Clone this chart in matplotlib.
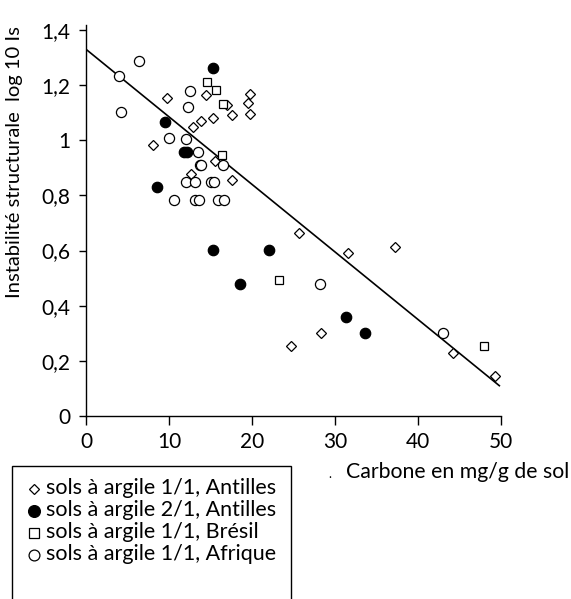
import matplotlib
matplotlib.use("Agg")
import matplotlib.pyplot as plt
import numpy as np
from matplotlib.lines import Line2D
from matplotlib.patches import Rectangle

plt.rcParams['font.family'] = ['Lato', 'DejaVu Sans']

# Data
antilles11_x = [9.8, 14.5, 17.0, 19.8, 19.5, 19.8, 17.6, 15.3, 13.8, 12.9, 8.1, 15.5, 12.7, 17.6,
                25.7, 31.6, 37.2, 28.3, 24.7, 44.2, 49.3]
antilles11_y = [1.155, 1.165, 1.128, 1.168, 1.134, 1.096, 1.092, 1.082, 1.071, 1.049, 0.982, 0.925,
                0.877, 0.856, 0.664, 0.59, 0.613, 0.30, 0.254, 0.227, 0.145]

antilles21_x = [15.3, 9.55, 11.8, 12.2, 8.5, 15.3, 22.1, 18.5, 31.3, 33.6]
antilles21_y = [1.263, 1.066, 0.959, 0.959, 0.832, 0.602, 0.602, 0.478, 0.36, 0.30]

bresil_x = [14.6, 15.7, 16.5, 16.4, 23.3, 47.9]
bresil_y = [1.211, 1.181, 1.133, 0.945, 0.493, 0.254]

afrique_x = [6.4, 4.0, 4.2, 12.5, 12.25, 10.0, 12.0, 13.45, 13.7, 13.9, 16.5, 12.0, 13.1, 15.0, 15.4,
             10.6, 13.1, 13.6, 15.9, 16.6, 28.2, 43.05]
afrique_y = [1.288, 1.233, 1.104, 1.18, 1.12, 1.008, 1.006, 0.959, 0.909, 0.909, 0.909, 0.848, 0.848,
             0.848, 0.848, 0.782, 0.782, 0.782, 0.782, 0.782, 0.478, 0.30]

fit_intercept = 1.33
fit_slope = -0.0245
fit_xrange = [0, 49.8]

x_ticks = [0, 10, 20, 30, 40, 50]
y_ticks = [0, 0.2, 0.4, 0.6, 0.8, 1.0, 1.2, 1.4]
y_ticklabels = ['0', '0,2', '0,4', '0,6', '0,8', '1', '1,2', '1,4']

labels = ['sols à argile 1/1, Antilles', 'sols à argile 2/1, Antilles',
          'sols à argile 1/1, Brésil', 'sols à argile 1/1, Afrique']

W, H = 571, 599
fig = plt.figure(figsize=(W / 100, H / 100), dpi=100)
ax = fig.add_axes([86 / W, 1 - 416 / H, (501 - 86) / W, (416 - 25) / H])

mew = 0.9
ax.plot(antilles11_x, antilles11_y, linestyle='none', marker='D', ms=4.8, mfc='white', mec='black', mew=mew, zorder=3)
ax.plot(bresil_x, bresil_y, linestyle='none', marker='s', ms=5.8, mfc='white', mec='black', mew=mew, zorder=3)
ax.plot(afrique_x, afrique_y, linestyle='none', marker='o', ms=7.3, mfc='white', mec='black', mew=mew, zorder=4)
ax.plot(antilles21_x, antilles21_y, linestyle='none', marker='o', ms=7.5, mfc='black', mec='black', mew=mew, zorder=5)

fx = np.array(fit_xrange)
ax.plot(fx, fit_intercept + fit_slope * fx, color='black', lw=1.2, zorder=2)

ax.set_xlim(0, 50)
ax.set_ylim(0, 1.418)
ax.spines['top'].set_visible(False)
ax.spines['right'].set_visible(False)
ax.spines['left'].set_linewidth(1.0)
ax.spines['bottom'].set_linewidth(1.0)
ax.set_xticks(x_ticks)
ax.set_yticks(y_ticks)
ax.set_yticklabels(y_ticklabels)
ax.tick_params(axis='x', direction='out', length=6.5, width=1, pad=5, labelsize=15)
ax.tick_params(axis='y', direction='out', length=5, width=1, pad=6, labelsize=15)

fig.text(15 / W, 1 - 26 / H, 'Instabilité structurale  log 10 Is', rotation=90,
         ha='center', va='top', fontsize=14.5)
fig.text(346 / W, 1 - 478 / H, 'Carbone en mg/g de sol', ha='left', va='baseline', fontsize=15.3)
fig.text(330 / W, 1 - 478 / H, '.', ha='center', va='baseline', fontsize=9)

# Legend drawn in figure pixel coordinates
tr = fig.transFigure
fig.patches.append(Rectangle((12 / W, -0.01), (291 - 12) / W, (1 - 466 / H) + 0.01,
                             transform=tr, fill=False, edgecolor='black', lw=1.0))
handles = [
    dict(marker='D', ms=5.3, mfc='white'),
    dict(marker='o', ms=8.5, mfc='black'),
    dict(marker='s', ms=7.5, mfc='white'),
    dict(marker='o', ms=7.8, mfc='white'),
]
for i, (h, lab) in enumerate(zip(handles, labels)):
    yc = 489 + 22 * i
    fig.lines.append(Line2D([34 / W], [1 - yc / H], transform=tr, linestyle='none',
                            mec='black', mew=mew, **h))
    fig.text(46 / W, 1 - (yc + 5.5) / H, lab, ha='left', va='baseline', fontsize=15.5)

fig.savefig('out.png', dpi=100)
